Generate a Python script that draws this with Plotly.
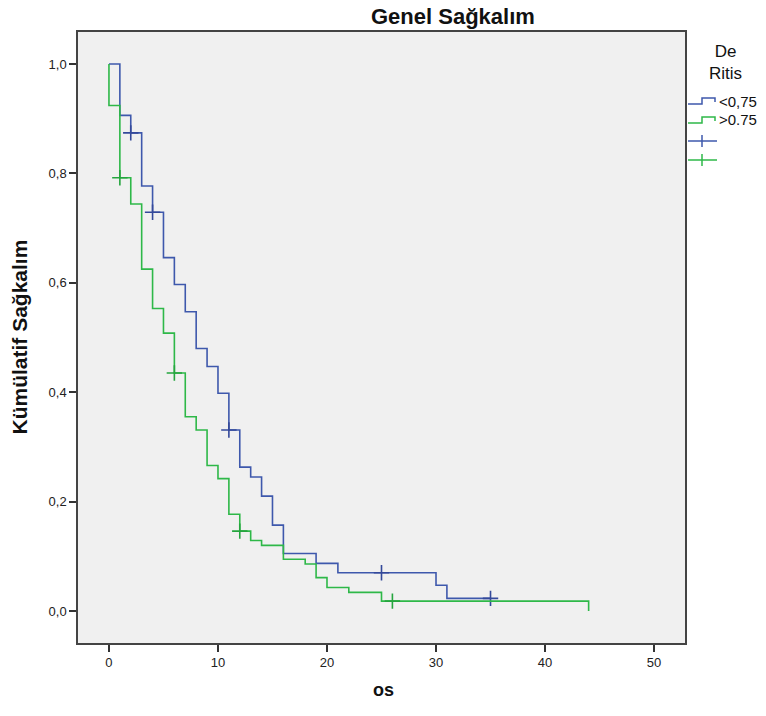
import plotly.graph_objects as go

# ---------------- data ----------------
group_names = ["<0,75", ">0.75"]

time_low = [0, 1, 2, 3, 4, 5, 6, 7, 8, 9, 10, 11, 12, 13, 14, 15, 16, 19, 21, 30, 31, 35]
surv_low = [1.0, 0.906, 0.874, 0.777, 0.729, 0.646, 0.597, 0.547, 0.480, 0.447, 0.398,
            0.331, 0.263, 0.245, 0.210, 0.157, 0.105, 0.087, 0.070, 0.047, 0.023, 0.023]
cens_low = [2, 4, 11, 25, 35]

time_high = [0, 0, 1, 2, 3, 4, 5, 6, 7, 8, 9, 10, 11, 12, 13, 14, 16, 18, 19, 20, 22, 25, 44, 44]
surv_high = [1.0, 0.924, 0.792, 0.744, 0.625, 0.553, 0.508, 0.435, 0.355, 0.331, 0.266, 0.242,
             0.177, 0.146, 0.129, 0.120, 0.0945, 0.086, 0.061, 0.043, 0.034, 0.018, 0.018, 0.0]
cens_high = [1, 6, 12, 26]

y_tick_vals = [0.0, 0.2, 0.4, 0.6, 0.8, 1.0]
y_tick_text = ["0,0", "0,2", "0,4", "0,6", "0,8", "1,0"]
x_tick_vals = [0, 10, 20, 30, 40, 50]

BLUE = "#3E58AC"
GREEN = "#2EB848"
BLUE_DARK = "#34499A"
GREEN_DARK = "#25A53E"


def step_value(times, survs, t):
    v = survs[0]
    for tt, s in zip(times, survs):
        if tt <= t:
            v = s
    return v


fig = go.Figure()
for times, survs, cens, col, ccol, nm in [
    (time_low, surv_low, cens_low, BLUE, BLUE_DARK, group_names[0]),
    (time_high, surv_high, cens_high, GREEN, GREEN_DARK, group_names[1]),
]:
    fig.add_trace(go.Scatter(x=times, y=survs, mode="lines", line=dict(color=col, width=1.6, shape="hv"),
                             name=nm, showlegend=False, hoverinfo="skip"))
    fig.add_trace(go.Scatter(x=cens, y=[step_value(times, survs, c) for c in cens], mode="markers",
                             marker=dict(symbol="cross-thin", size=11, line=dict(color=ccol, width=1.6)),
                             showlegend=False, hoverinfo="skip"))

# ---------------- layout helpers (pixel -> paper) ----------------
L, R, T, B = 78, 685, 32, 643
W, H = 766, 716


def px(xp):
    return (xp - L) / (R - L)


def py(yp):
    return (B - yp) / (B - T)


shapes = []
annotations = []

# title
annotations.append(dict(text="<b>Genel Sağkalım</b>", x=px(453), y=py(17), xref="paper", yref="paper",
                        showarrow=False, xanchor="center", yanchor="middle",
                        font=dict(family="Arial", size=22, color="#111")))
# y axis title
annotations.append(dict(text="<b>Kümülatif Sağkalım</b>", x=px(19), y=0.5, xref="paper", yref="paper",
                        showarrow=False, textangle=-90, xanchor="center", yanchor="middle",
                        font=dict(family="Arial", size=21, color="#111")))
# x axis title
annotations.append(dict(text="<b>os</b>", x=px(383), y=py(690), xref="paper", yref="paper",
                        showarrow=False, xanchor="center", yanchor="middle",
                        font=dict(family="Arial", size=18, color="#111")))

# legend title
annotations.append(dict(text="De<br>Ritis", x=px(725), y=py(62), xref="paper", yref="paper",
                        showarrow=False, xanchor="center", yanchor="middle", align="center",
                        font=dict(family="Arial", size=17, color="#111")))

# legend step icons + labels
for (ylow, col, nm) in [(104, BLUE, group_names[0]), (123, GREEN, group_names[1])]:
    shapes.append(dict(type="path", xref="paper", yref="paper",
                       path=f"M {px(688)},{py(ylow)} L {px(702)},{py(ylow)} L {px(702)},{py(ylow-6)} "
                            f"L {px(715)},{py(ylow-6)} L {px(715)},{py(ylow-2)}",
                       line=dict(color=col, width=1.5)))
    annotations.append(dict(text=nm, x=px(717), y=py(ylow - 3), xref="paper", yref="paper",
                            showarrow=False, xanchor="left", yanchor="middle",
                            font=dict(family="Arial", size=15, color="#111")))

# legend censor icons
for (yc, col) in [(141, BLUE), (160, GREEN)]:
    shapes.append(dict(type="line", xref="paper", yref="paper", x0=px(688), x1=px(717), y0=py(yc), y1=py(yc),
                       line=dict(color=col, width=1.5)))
    shapes.append(dict(type="line", xref="paper", yref="paper", x0=px(702), x1=px(702), y0=py(yc - 6), y1=py(yc + 6),
                       line=dict(color=col, width=1.5)))

fig.update_layout(
    width=W, height=H,
    margin=dict(l=L, r=W - R, t=T, b=H - B, pad=0),
    paper_bgcolor="white",
    plot_bgcolor="#F0F0F0",
    showlegend=False,
    shapes=shapes,
    annotations=annotations,
    font=dict(family="Arial", size=13, color="#222"),
)
fig.update_xaxes(range=[-2.84, 52.84], tickvals=x_tick_vals, ticks="outside", ticklen=7, tickwidth=1.5,
                 tickcolor="#333", showgrid=False, zeroline=False, showline=True, mirror=True,
                 linecolor="#444", linewidth=1.5, tickfont=dict(size=13, color="#222"))
fig.update_yaxes(range=[-0.0585, 1.0585], tickvals=y_tick_vals, ticktext=y_tick_text, ticks="outside",
                 ticklen=7, tickwidth=1.5, tickcolor="#333", showgrid=False, zeroline=False, showline=True,
                 mirror=True, linecolor="#444", linewidth=1.5, tickfont=dict(size=13, color="#222"))

fig.write_html("out.html", config={"displayModeBar": False},
               post_script="document.body.style.margin='0px';document.body.style.overflow='hidden';")
